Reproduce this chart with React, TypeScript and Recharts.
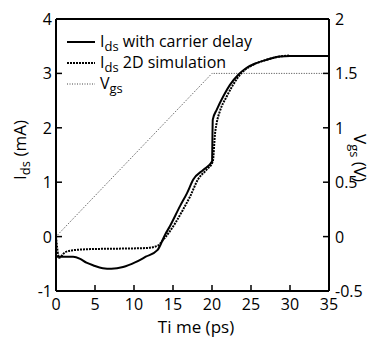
import React from "react";
import { LineChart, Line, XAxis, YAxis } from "recharts";

// I_ds with carrier delay (solid)
const carrierTime = [0, 1, 2.2, 3.1, 3.9, 4.8, 6, 7.1, 8.6, 10.2, 11.5, 13, 14, 14.6, 15.9, 16.8, 17.6, 18.9, 20, 20.1, 20.6, 21.45, 22.3, 23.4, 24.4, 25.7, 27, 28.7, 30, 35];
const carrierIds = [-0.37, -0.37, -0.37, -0.41, -0.48, -0.53, -0.58, -0.59, -0.56, -0.47, -0.37, -0.25, 0.04, 0.19, 0.56, 0.8, 1.05, 1.23, 1.38, 2.15, 2.33, 2.58, 2.79, 2.98, 3.1, 3.19, 3.25, 3.31, 3.32, 3.32];

// I_ds 2D simulation (dashed)
const simTime = [0, 0.4, 1.15, 2.2, 4.4, 8.6, 11.6, 13, 13.8, 15.3, 16.3, 17.2, 18.2, 19.3, 20.1, 20.4, 20.6, 21, 21.9, 22.7, 23.8, 24.9, 27, 28.7, 30];
const simIds = [0, -0.39, -0.29, -0.25, -0.23, -0.22, -0.21, -0.17, -0.05, 0.25, 0.5, 0.74, 1.05, 1.23, 1.38, 1.91, 2.09, 2.3, 2.58, 2.79, 3.01, 3.13, 3.25, 3.31, 3.33];

// V_gs (dotted)
const vgsTime = [0, 20, 35];
const vgsValues = [0, 1.5, 1.5];

const xTicks = [0, 5, 10, 15, 20, 25, 30, 35];
const leftTicks = [-1, 0, 1, 2, 3, 4];
const rightTicks = [-0.5, 0, 0.5, 1, 1.5, 2];

const carrierData = carrierTime.map((t, i) => ({ t, ids: carrierIds[i] }));
const simData = simTime.map((t, i) => ({ t, ids: simIds[i] }));
const vgsData = vgsTime.map((t, i) => ({ t, vgs: vgsValues[i] }));

const FONT = "'Open Sans', sans-serif";
const FS = 16;
const SUB = 13;

const BottomTick = (props: any) => {
  const { x, y, payload } = props;
  const v = payload.value;
  return (
    <g>
      {v !== 0 && v !== 35 && <line x1={x} x2={x} y1={y} y2={y - 6} stroke="#000" strokeWidth={1.5} />}
      <text x={x} y={y + 19} textAnchor="middle" fontSize={FS} fontFamily={FONT} fill="#000">
        {v}
      </text>
    </g>
  );
};

const TopTick = (props: any) => {
  const { x, y, payload } = props;
  const v = payload.value;
  if (v === 0 || v === 35) return <g />;
  return <line x1={x} x2={x} y1={y} y2={y + 6} stroke="#000" strokeWidth={1.5} />;
};

const LeftTick = (props: any) => {
  const { x, y, payload } = props;
  const v = payload.value;
  return (
    <g>
      {v !== -1 && v !== 4 && <line x1={x} x2={x + 6} y1={y} y2={y} stroke="#000" strokeWidth={1.5} />}
      <text x={x - 4} y={y + 6} textAnchor="end" fontSize={FS} fontFamily={FONT} fill="#000">
        {v}
      </text>
    </g>
  );
};

const RightTick = (props: any) => {
  const { x, y, payload } = props;
  const v = payload.value;
  return (
    <g>
      {v !== -0.5 && v !== 2 && <line x1={x} x2={x - 6} y1={y} y2={y} stroke="#000" strokeWidth={1.5} />}
      <text x={x + 6} y={y + 6} textAnchor="start" fontSize={FS} fontFamily={FONT} fill="#000">
        {v}
      </text>
    </g>
  );
};

const LeftLabel = () => (
  <text transform="translate(26,150) rotate(-90)" textAnchor="middle" fontSize={FS + 1} fontFamily={FONT} fill="#000">
    I<tspan fontSize={SUB} dy={4}>ds</tspan>
    <tspan dy={-4}> (mA)</tspan>
  </text>
);

const RightLabel = () => (
  <text transform="translate(354,158) rotate(90)" textAnchor="middle" fontSize={FS + 1} fontFamily={FONT} fill="#000">
    V<tspan fontSize={SUB} dy={4}>gs</tspan>
    <tspan dy={-4}> (V)</tspan>
  </text>
);

const XLabel = () => (
  <text x={196} y={333} textAnchor="middle" fontSize={FS + 1} fontFamily={FONT} fill="#000">
    Ti me (ps)
  </text>
);

const legendItems = [
  { name: "with  carrier delay", sub: "ds", main: "I", dash: undefined, width: 2, color: "#000" },
  { name: "2D simulation", sub: "ds", main: "I", dash: "2 1", width: 2, color: "#000" },
  { name: "", sub: "gs", main: "V", dash: "1 1.5", width: 1, color: "#444" },
];

const ChartLegend = () => (
  <svg width={280} height={80} style={{ position: "absolute", left: 60, top: 28, overflow: "visible" }}>
    {legendItems.map((it, i) => {
      const cy = 14 + i * 21;
      return (
        <g key={i}>
          <line x1={7} x2={35} y1={cy} y2={cy} stroke={it.color} strokeWidth={it.width} strokeDasharray={it.dash} />
          <text x={40} y={cy + 5} fontSize={FS} fontFamily={FONT} fill="#000">
            {it.main}
            <tspan fontSize={SUB} dy={4}>{it.sub}</tspan>
            <tspan dy={-4}>{it.name ? " " + it.name : ""}</tspan>
          </text>
        </g>
      );
    })}
  </svg>
);

export default function App() {
  return (
    <div style={{ position: "absolute", left: 0, top: 0, width: 372, height: 340, background: "#fff" }}>
      <LineChart width={372} height={340} margin={{ top: 19, right: 0, bottom: 0, left: 10 }}>
        <XAxis
          xAxisId="bottom"
          dataKey="t"
          type="number"
          domain={[0, 35]}
          ticks={xTicks}
          allowDuplicatedCategory={false}
          height={49}
          tickSize={0}
          tickMargin={0}
          tickLine={false}
          interval={0}
          axisLine={{ stroke: "#000", strokeWidth: 2 }}
          tick={<BottomTick />}
        />
        <XAxis
          xAxisId="top"
          orientation="top"
          mirror
          dataKey="t"
          type="number"
          domain={[0, 35]}
          ticks={xTicks}
          tickSize={0}
          tickMargin={0}
          tickLine={false}
          interval={0}
          axisLine={{ stroke: "#000", strokeWidth: 2 }}
          tick={<TopTick />}
        />
        <YAxis
          yAxisId="left"
          type="number"
          domain={[-1, 4]}
          ticks={leftTicks}
          width={46}
          tickSize={0}
          tickMargin={0}
          tickLine={false}
          interval={0}
          axisLine={{ stroke: "#000", strokeWidth: 2 }}
          tick={<LeftTick />}
        />
        <YAxis
          yAxisId="right"
          orientation="right"
          type="number"
          domain={[-0.5, 2]}
          ticks={rightTicks}
          width={43}
          tickSize={0}
          tickMargin={0}
          tickLine={false}
          interval={0}
          axisLine={{ stroke: "#000", strokeWidth: 2 }}
          tick={<RightTick />}
        />
        <Line
          xAxisId="bottom"
          yAxisId="right"
          data={vgsData}
          dataKey="vgs"
          type="linear"
          stroke="#444"
          strokeWidth={1}
          strokeDasharray="1 1.5"
          dot={false}
          isAnimationActive={false}
        />
        <Line
          xAxisId="bottom"
          yAxisId="left"
          data={simData}
          dataKey="ids"
          type="monotone"
          stroke="#000"
          strokeWidth={2}
          strokeDasharray="2 1"
          dot={false}
          isAnimationActive={false}
        />
        <Line
          xAxisId="bottom"
          yAxisId="left"
          data={carrierData}
          dataKey="ids"
          type="monotone"
          stroke="#000"
          strokeWidth={2}
          dot={false}
          isAnimationActive={false}
        />
      </LineChart>
      <svg width={372} height={340} style={{ position: "absolute", left: 0, top: 0, pointerEvents: "none" }}>
        <LeftLabel />
        <RightLabel />
        <XLabel />
      </svg>
      <ChartLegend />
    </div>
  );
}
